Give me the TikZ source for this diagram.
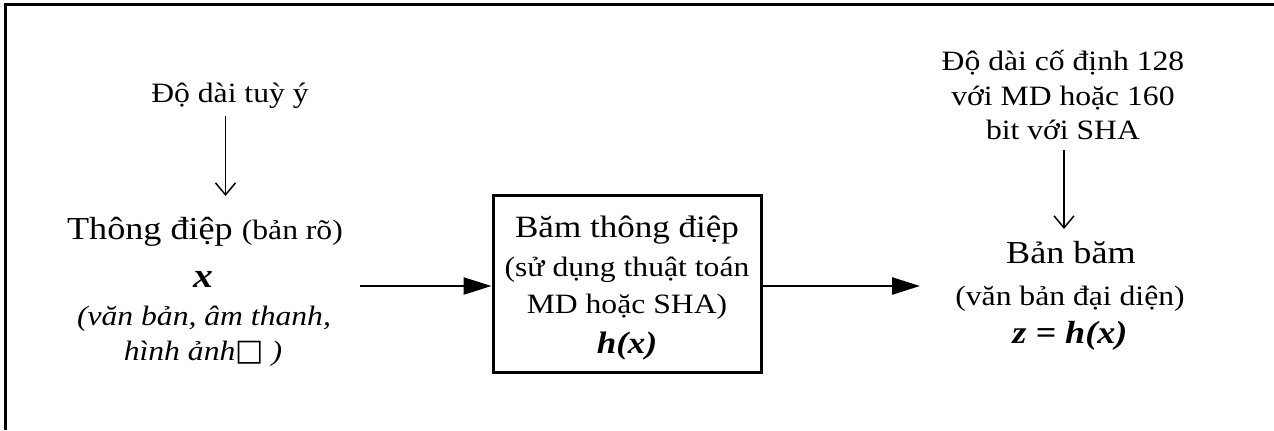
\documentclass[tikz,border=0pt]{standalone}
\usepackage{fontspec}
\setmainfont{Liberation Serif}[FakeStretch=1.13]
\newfontfamily\boxglyph{DejaVu Sans}
\usetikzlibrary{arrows.meta}
\begin{document}
\begin{tikzpicture}[x=0.5pt,y=-0.5pt,
  txt/.style={anchor=base, inner sep=0pt, font=\fontsize{14}{16}\selectfont},
  bigtxt/.style={anchor=base, inner sep=0pt, font=\fontsize{16}{18}\selectfont},
  ittxt/.style={anchor=base, inner sep=0pt, font=\fontsize{14}{16}\selectfont\itshape},
  bitxt/.style={anchor=base, inner sep=0pt, font=\fontsize{16}{18}\selectfont\bfseries\itshape},
  hashbox/.style={draw, line width=1.5pt, minimum width=134pt, minimum height=88.5pt, inner sep=0pt},
  frameline/.style={line width=1.5pt},
  flowarrow/.style={line width=1.25pt, -{Triangle[length=14pt,width=8.5pt]}},
  notearrow/.style={line width=0.75pt, -{Straight Barb[length=6pt,width=10pt]}}]
\useasboundingbox (0,0) rectangle (1274,430);
% frame (only top and left edges visible)
\coordinate (fbl) at (5.5,430);
\coordinate (ftl) at (5.5,4.5);
\coordinate (ftr) at (1274,4.5);
\draw[frameline] (fbl) -- (ftl) -- (ftr);

% left column
\node[txt] (lenin) at (230,102) {Độ dài tuỳ ý};
\node[bigtxt] (msg) at (205,239) {Thông điệp {\fontsize{14}{16}\selectfont(bản rõ)}};
\node[bitxt, font=\fontsize{17.5}{18}\selectfont\bfseries\itshape] (xvar) at (203,287) {x};
\node[ittxt] (kind1) at (204,325) {(văn bản, âm thanh,};
\node[ittxt] (kind2) at (203,360) {hình ảnh{\upshape\boxglyph\fontsize{15}{16}\selectfont □} )};
\draw[notearrow] ([xshift=-2.25pt,yshift=-7pt]lenin.base) -- ([xshift=10.25pt,yshift=21.5pt]msg.base);

% middle box
\node[hashbox] (box) at (627,283.5) {};
\node[txt, font=\fontsize{15.5}{17}\selectfont] (b1) at (627,237) {Băm thông điệp};
\node[txt] (b2) at (627,276) {(sử dụng thuật toán};
\node[txt] (b3) at (627,313) {MD hoặc SHA)};
\node[bitxt, font=\fontsize{15.5}{17}\selectfont\bfseries\itshape] (b4) at (627,353) {h(x)};

% right column
\node[txt] (fix1) at (1063,70) {Độ dài cố định 128};
\node[txt] (fix2) at (1063,105) {với MD hoặc 160};
\node[txt] (fix3) at (1063,139) {bit với SHA};
\node[bigtxt] (hash) at (1071,263) {Bản băm};
\node[txt] (hash2) at (1070,305) {(văn bản đại diện)};
\node[bitxt] (zeq) at (1070,343) {z = h(x)};
\draw[notearrow] ([xshift=0.5pt,yshift=-5.5pt]fix3.base) -- ([xshift=-3.5pt,yshift=17pt]hash.base);

% main flow
\coordinate (in) at (360,286);
\coordinate (out) at (920,286);
\draw[flowarrow] (in) -- (in -| box.west);
\draw[flowarrow] (box.east |- out) -- (out);
\end{tikzpicture}
\end{document}
